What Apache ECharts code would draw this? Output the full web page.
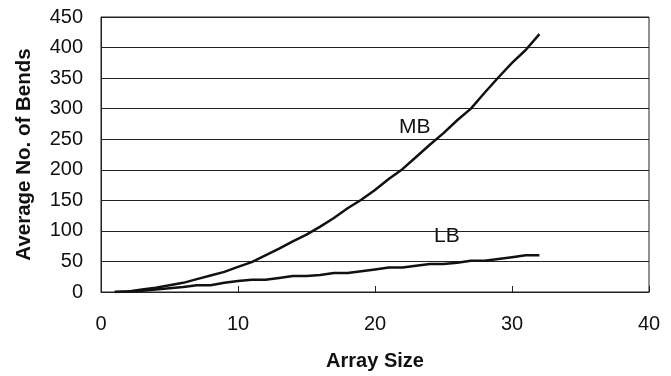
<!DOCTYPE html>
<html>
<head>
<meta charset="utf-8">
<script src="https://cdn.jsdelivr.net/npm/echarts@6/dist/echarts.min.js"></script>
<style>
  html, body { margin: 0; padding: 0; background: #fff; }
  #chart { width: 671px; height: 376px; }
</style>
</head>
<body>
<div id="chart"></div>
<script>
var arraySize = [1, 2, 3, 4, 5, 6, 7, 8, 9, 10, 11, 12, 13, 14, 15, 16,
                 17, 18, 19, 20, 21, 22, 23, 24, 25, 26, 27, 28, 29, 30, 31, 32];
var mbBends = [0, 1, 4, 7, 11, 15, 21, 27, 33, 41, 49, 60, 71, 83, 94, 107,
               121, 137, 151, 167, 185, 201, 221, 241, 260, 281, 300, 326, 351, 375, 396, 422];
var lbBends = [0, 1, 2, 4, 6, 8, 11, 11, 15, 18, 20, 20, 23, 26, 26, 28,
               31, 31, 34, 37, 40, 40, 43, 46, 46, 48, 51, 51, 54, 57, 60, 60];
var xTicks = [0, 10, 20, 30, 40];
var yTicks = [0, 50, 100, 150, 200, 250, 300, 350, 400, 450];

function pairs(xs, ys) {
  return xs.map(function (x, i) { return [x, ys[i]]; });
}

var chart = echarts.init(document.getElementById('chart'));
var font = 'Liberation Sans, Arial, sans-serif';

var option = {
  backgroundColor: '#fff',
  animation: false,
  grid: {
    left: 101,
    right: 22,
    top: 17,
    bottom: 82,
    show: true,
    borderColor: '#222',
    borderWidth: 1
  },
  xAxis: {
    type: 'value',
    min: xTicks[0],
    max: xTicks[xTicks.length - 1],
    interval: 10,
    name: 'Array Size',
    nameLocation: 'middle',
    nameGap: 59,
    nameTextStyle: { fontFamily: font, fontSize: 20, fontWeight: 'bold', color: '#111' },
    axisLine: { show: true, lineStyle: { color: '#222', width: 1 } },
    axisTick: { show: true, inside: true, length: 6, lineStyle: { color: '#222' } },
    axisLabel: { fontFamily: font, fontSize: 20, color: '#111', margin: 22 },
    splitLine: { show: false }
  },
  yAxis: {
    type: 'value',
    min: yTicks[0],
    max: yTicks[yTicks.length - 1],
    interval: 50,
    name: 'Average No. of Bends',
    nameLocation: 'middle',
    nameGap: 66,
    nameTextStyle: { fontFamily: font, fontSize: 20.5, fontWeight: 'bold', color: '#111' },
    axisLine: { show: true, lineStyle: { color: '#222', width: 1 } },
    axisTick: { show: false },
    axisLabel: { fontFamily: font, fontSize: 20, color: '#111', margin: 18 },
    splitLine: { show: true, lineStyle: { color: '#222', width: 1 } }
  },
  graphic: [
    { type: 'text', left: 399, top: 117, style: { text: 'MB', font: '21px ' + font, fill: '#111' } },
    { type: 'text', left: 434, top: 226, style: { text: 'LB', font: '21px ' + font, fill: '#111' } }
  ],
  series: [
    {
      name: 'MB',
      type: 'line',
      data: pairs(arraySize, mbBends),
      showSymbol: false,
      lineStyle: { color: '#111', width: 2.5 }
    },
    {
      name: 'LB',
      type: 'line',
      data: pairs(arraySize, lbBends),
      showSymbol: false,
      lineStyle: { color: '#111', width: 2.5 }
    }
  ]
};

chart.setOption(option);
</script>
</body>
</html>
